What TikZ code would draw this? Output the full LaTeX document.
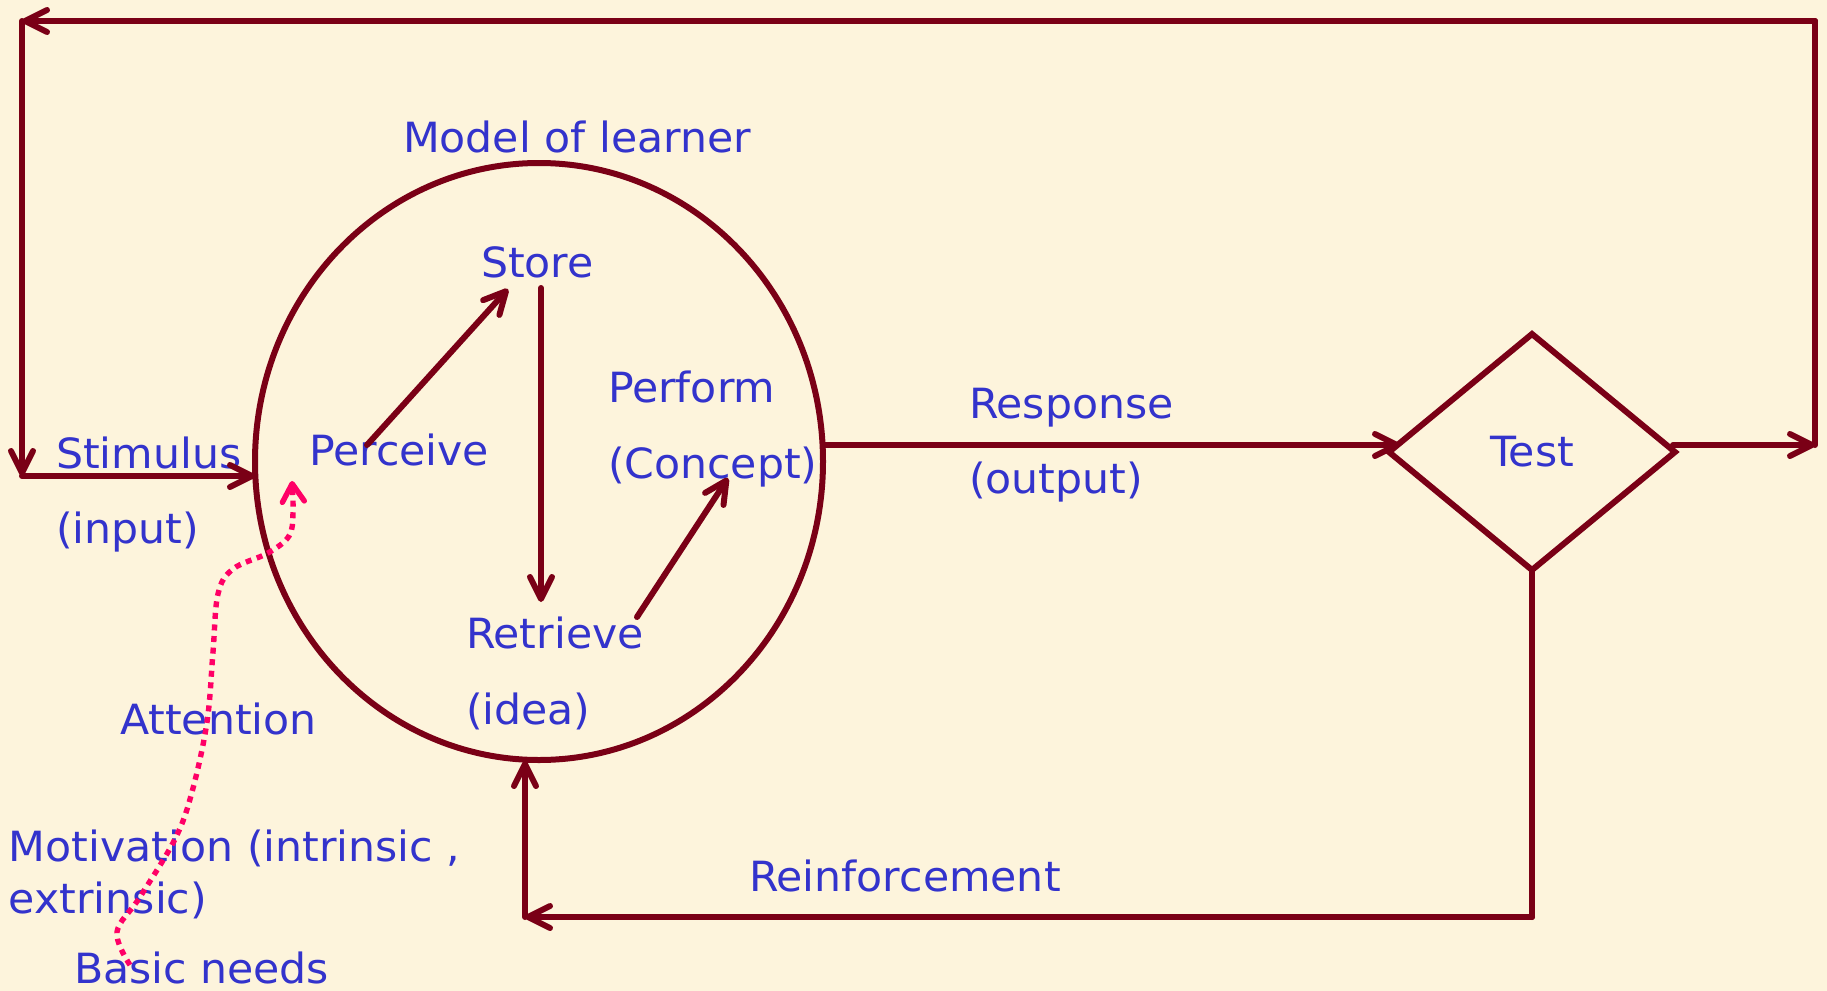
\documentclass[tikz,border=0pt]{standalone}
\usepackage{fontspec}
\setmainfont[FakeStretch=1.025]{DejaVu Sans}
\usetikzlibrary{arrows.meta,shapes.geometric}
\definecolor{bg}{RGB}{253,244,220}
\definecolor{ln}{RGB}{122,0,22}
\definecolor{tx}{RGB}{51,51,204}
\definecolor{pk}{RGB}{255,0,102}
\begin{document}
\begin{tikzpicture}[x=0.5pt,y=-0.5pt,
  lbl/.style={anchor=base west,inner sep=0pt,outer sep=0pt,text=tx,font=\fontsize{20.8}{24}\selectfont},
  conn/.style={draw=ln,line width=3pt,line cap=round,line join=round},
  arr/.style={conn,-{Straight Barb[length=11pt,width=11pt,round]}},
  pinkarr/.style={draw=pk,line width=2.7pt,dash pattern=on 3pt off 2.8pt,
     -{Straight Barb[length=9pt,width=11pt,round]}},
  shapeline/.style={draw=ln,line width=3pt,inner sep=0pt,outer sep=0pt}]
\fill[bg] (0,0) rectangle (1827,991);
\useasboundingbox (0,0) rectangle (1827,991);

% shapes
\node[shapeline,ellipse,minimum width=284pt,minimum height=298.5pt] (learner) at (539,461.5) {};
\node[shapeline,diamond,minimum width=143pt,minimum height=118pt,text=tx,font=\fontsize{20.8}{24}\selectfont] (test) at (1532,452) {Test};

% labels
\node[lbl] (model) at (403,152) {Model of learner};
\node[lbl] (store) at (481,277) {Store};
\node[lbl] (perceive) at (309,465) {Perceive};
\node[lbl] (perform) at (608,402) {Perform};
\node[lbl] (concept) at (608,478) {(Concept)};
\node[lbl] (retrieve) at (466,648) {Retrieve};
\node[lbl] (idea) at (466,724) {(idea)};
\node[lbl] (stimulus) at (56,468) {Stimulus};
\node[lbl] (input) at (56,543) {(input)};
\node[lbl] (response) at (969,418) {Response};
\node[lbl] (output) at (969,493) {(output)};
\node[lbl] (attention) at (120,734) {Attention};
\node[lbl] (motiv) at (9,861) {Motivation (intrinsic ,};
\node[lbl] (extr) at (9,913) {extrinsic)};
\node[lbl] (needs) at (74,983) {Basic needs};
\node[lbl] (reinf) at (749,891) {Reinforcement};

% coordinates
\coordinate (tout) at (1673,445);
\coordinate (cR) at (1815,445);
\coordinate (cTR) at (1815,21);
\coordinate (cTL) at (22,21);
\coordinate (cL) at (22,476);
\coordinate (stimin) at (255,476);
\coordinate (respout) at (823,445);
\coordinate (respin) at (1400,445);
\coordinate (tdown) at (1532,917);
\coordinate (rcorner) at (525,917);
\coordinate (rin) at (525,761);
\coordinate (pstart) at (367,445);
\coordinate (pend) at (508,289);
\coordinate (sstart) at (541,288);
\coordinate (send) at (541,602);
\coordinate (rstart) at (637,617);
\coordinate (rend) at (728,478);
\coordinate (needsdot) at (130,965);
\coordinate (attin) at (292,481);

% connectors
\draw[arr] (tout) -- (cR);
\draw[conn] (cR) -- (cTR);
\draw[arr] (cTR) -- (cTL);
\draw[arr] (cTL) -- (cL);
\draw[arr] (cL) -- (stimin);
\draw[arr] (respout) -- (respin);
\draw[conn] (test.south) -- (tdown);
\draw[arr] (tdown) -- (rcorner);
\draw[arr] (rcorner) -- (rin);
\draw[arr] (pstart) -- (pend);
\draw[arr] (sstart) -- (send);
\draw[arr] (rstart) -- (rend);
\draw[pinkarr] plot[smooth,tension=0.6] coordinates {(needsdot) (117,932) (140,897) (175,839) (192,792) (207,722) (213,652) (218,594) (233,569) (268,553) (289,536) (293,513) (attin)};
\end{tikzpicture}
\end{document}
